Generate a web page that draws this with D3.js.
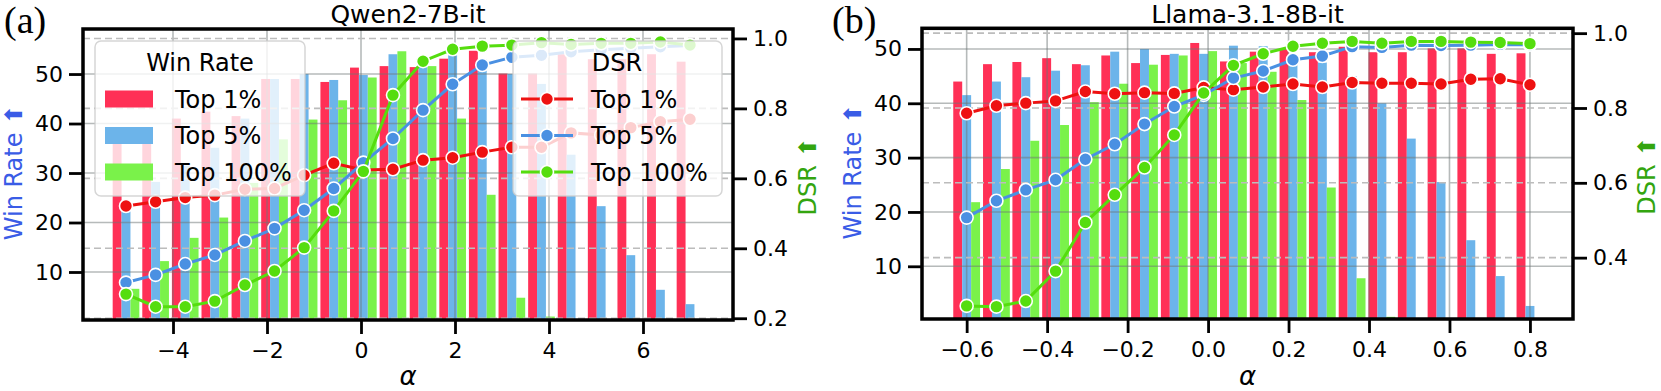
<!DOCTYPE html>
<html>
<head>
<meta charset="utf-8">
<title>Win Rate / DSR vs alpha</title>
<script src="https://cdn.jsdelivr.net/npm/d3@7"></script>
<style>
  body { margin: 0; background: #fff; }
  svg { display: block; font-family: "DejaVu Sans", sans-serif; }
</style>
</head>
<body>
<svg id="chart" width="1661" height="391"></svg>
<script>
// ---- data ----
var seriesNames = ['Top 1%', 'Top 5%', 'Top 100%'];

// (a) Qwen2-7B-it
var alphaQwen = [-5.0, -4.37, -3.74, -3.11, -2.47, -1.84, -1.21, -0.58, 0.05, 0.68,
                 1.32, 1.95, 2.58, 3.21, 3.84, 4.47, 5.11, 5.74, 6.37, 7.0];
var qwenWinTop1   = [36.0, 36.0, 41.0, 42.4, 41.5, 49.0, 49.0, 48.4, 51.3, 51.6,
                     51.4, 53.1, 54.7, 50.1, 50.1, 54.0, 53.0, 53.0, 54.0, 52.5];
var qwenWinTop5   = [23.5, 28.2, 31.5, 35.1, 41.0, 49.0, 50.0, 48.8, 49.8, 54.0,
                     51.4, 53.8, 53.0, 50.0, 48.0, 33.7, 23.3, 13.4, 6.4, 3.5];
var qwenWinTop100 = [6.6, 12.2, 16.9, 21.0, 28.0, 36.8, 40.8, 44.7, 49.3, 54.6,
                     51.6, 41.0, 25.6, 4.8, 1.0, 0, 0, 0, 0, 0];
var qwenDsrTop1   = [0.521, 0.533, 0.545, 0.552, 0.569, 0.571, 0.609, 0.643, 0.624, 0.626,
                     0.652, 0.659, 0.675, 0.689, 0.689, 0.730, 0.724, 0.745, 0.762, 0.769];
var qwenDsrTop5   = [0.302, 0.324, 0.355, 0.381, 0.421, 0.457, 0.509, 0.571, 0.645, 0.714,
                     0.795, 0.869, 0.924, 0.946, 0.952, 0.962, 0.968, 0.972, 0.976, 0.980];
var qwenDsrTop100 = [0.269, 0.233, 0.233, 0.249, 0.295, 0.335, 0.402, 0.507, 0.620, 0.838,
                     0.935, 0.969, 0.978, 0.981, 0.988, 0.983, 0.986, 0.986, 0.990, 0.981];

// (b) Llama-3.1-8B-it
var alphaLlama = [-0.6, -0.526, -0.453, -0.379, -0.305, -0.232, -0.158, -0.084, -0.011, 0.063,
                  0.137, 0.211, 0.284, 0.358, 0.432, 0.505, 0.579, 0.653, 0.726, 0.8];
var llamaWinTop1   = [44.0, 47.2, 47.6, 48.3, 47.2, 48.8, 47.4, 48.9, 51.1, 47.7,
                      49.5, 50.1, 49.4, 50.4, 49.4, 49.4, 50.1, 50.1, 49.1, 49.2];
var llamaWinTop5   = [41.5, 44.0, 44.8, 46.0, 47.0, 49.5, 50.0, 49.1, 49.1, 50.6,
                      50.5, 49.0, 47.5, 45.0, 40.0, 33.5, 25.5, 14.8, 8.2, 2.7];
var llamaWinTop100 = [21.8, 27.9, 33.1, 36.0, 40.2, 43.6, 47.1, 48.8, 49.6, 47.4,
                      45.8, 40.6, 24.5, 7.8, 0.7, 0, 0, 0, 0, 0];
var llamaDsrTop1   = [0.786, 0.806, 0.813, 0.819, 0.844, 0.838, 0.841, 0.839, 0.855, 0.849,
                      0.856, 0.864, 0.856, 0.868, 0.866, 0.866, 0.864, 0.877, 0.878, 0.862];
var llamaDsrTop5   = [0.507, 0.552, 0.581, 0.608, 0.663, 0.703, 0.757, 0.804, 0.835, 0.880,
                      0.899, 0.929, 0.939, 0.964, 0.962, 0.968, 0.967, 0.968, 0.970, 0.969];
var llamaDsrTop100 = [0.271, 0.269, 0.284, 0.364, 0.494, 0.568, 0.641, 0.728, 0.840, 0.914,
                      0.945, 0.965, 0.973, 0.978, 0.973, 0.978, 0.978, 0.976, 0.975, 0.972];

var winTicks = [10, 20, 30, 40, 50];
var qwenXTicks = [-4, -2, 0, 2, 4, 6];
var llamaXTicks = [-0.6, -0.4, -0.2, 0.0, 0.2, 0.4, 0.6, 0.8];
var qwenDsrTicks = [0.2, 0.4, 0.6, 0.8, 1.0];
var llamaDsrTicks = [0.4, 0.6, 0.8, 1.0];

// ---- styles ----
var barColors  = ['#ff3056', '#6cb4ea', '#7af24a'];
var lineColors = ['#ee1111', '#4a90e2', '#55dd0e'];
var winColor = '#3a5ce6';
var dsrColor = '#33a50f';
var tickFont = 22;

var svg = d3.select('#chart');

var panels = [
    { tag: '(a)', tagX: 4, title: 'Qwen2-7B-it',
      left: 83, right: 733, top: 29, bottom: 320,
      xDomain: [-5.915, 7.915], winDomain: [0.3, 59.1], dsrDomain: [0.195, 1.027],
      xTicks: qwenXTicks, xFmt: d3.format('d'), dsrTicks: qwenDsrTicks,
      alpha: alphaQwen,
      win: [qwenWinTop1, qwenWinTop5, qwenWinTop100],
      dsr: [qwenDsrTop1, qwenDsrTop5, qwenDsrTop100],
      winLabelX: 14, dsrLabelX: 808, legend: true },
    { tag: '(b)', tagX: 832, title: 'Llama-3.1-8B-it',
      left: 922, right: 1573, top: 28.3, bottom: 319,
      xDomain: [-0.711, 0.907], winDomain: [0.3, 53.8], dsrDomain: [0.236, 1.013],
      xTicks: llamaXTicks, xFmt: d3.format('.1f'), dsrTicks: llamaDsrTicks,
      alpha: alphaLlama,
      win: [llamaWinTop1, llamaWinTop5, llamaWinTop100],
      dsr: [llamaDsrTop1, llamaDsrTop5, llamaDsrTop100],
      winLabelX: 853, dsrLabelX: 1647, legend: false }
];

panels.forEach(drawPanel);

function drawPanel(p) {
    var x = d3.scaleLinear().domain(p.xDomain).range([p.left, p.right]);
    var yWin = d3.scaleLinear().domain(p.winDomain).range([p.bottom, p.top]);
    var yDsr = d3.scaleLinear().domain(p.dsrDomain).range([p.bottom, p.top]);
    var step = p.alpha[1] - p.alpha[0];
    var bw = step * 0.3;

    var g = svg.append('g');

    // bars
    p.win.forEach(function (vals, s) {
        g.append('g').selectAll('rect')
            .data(vals)
            .enter().append('rect')
            .attr('x', function (d, i) { return x(p.alpha[i] + (s - 1) * bw - bw / 2); })
            .attr('width', x(bw) - x(0))
            .attr('y', function (d) { return yWin(d); })
            .attr('height', function (d) { return Math.max(0, p.bottom - yWin(d)); })
            .attr('fill', barColors[s]);
    });

    // solid grid (win rate axis + x)
    var grid = g.append('g')
        .attr('stroke', 'rgba(110,118,118,0.5)')
        .attr('stroke-width', 1.6);
    grid.selectAll('.hy').data(winTicks).enter().append('line')
        .attr('x1', p.left).attr('x2', p.right)
        .attr('y1', function (d) { return yWin(d); })
        .attr('y2', function (d) { return yWin(d); });
    grid.selectAll('.vx').data(p.xTicks).enter().append('line')
        .attr('y1', p.top).attr('y2', p.bottom)
        .attr('x1', function (d) { return x(d); })
        .attr('x2', function (d) { return x(d); });

    // dashed grid (DSR axis)
    g.append('g').selectAll('line').data(p.dsrTicks).enter().append('line')
        .attr('x1', p.left).attr('x2', p.right)
        .attr('y1', function (d) { return yDsr(d); })
        .attr('y2', function (d) { return yDsr(d); })
        .attr('stroke', '#bcbcbc')
        .attr('stroke-width', 1.6)
        .attr('stroke-dasharray', '7,4');

    // DSR lines + markers
    p.dsr.forEach(function (vals, s) {
        var line = d3.line()
            .x(function (d, i) { return x(p.alpha[i]); })
            .y(function (d) { return yDsr(d); });
        g.append('path')
            .attr('d', line(vals))
            .attr('fill', 'none')
            .attr('stroke', lineColors[s])
            .attr('stroke-width', 3);
        g.append('g').selectAll('circle').data(vals).enter().append('circle')
            .attr('cx', function (d, i) { return x(p.alpha[i]); })
            .attr('cy', function (d) { return yDsr(d); })
            .attr('r', 6.5)
            .attr('fill', lineColors[s])
            .attr('stroke', '#fff')
            .attr('stroke-width', 1.6);
    });

    if (p.legend) drawLegends();

    // spines
    g.append('rect')
        .attr('x', p.left).attr('y', p.top)
        .attr('width', p.right - p.left).attr('height', p.bottom - p.top)
        .attr('fill', 'none').attr('stroke', '#000').attr('stroke-width', 3.5);

    // axes
    var xAxis = g.append('g')
        .attr('transform', 'translate(0,' + p.bottom + ')')
        .call(d3.axisBottom(x).tickValues(p.xTicks).tickFormat(p.xFmt).tickSize(14).tickPadding(8));
    var lAxis = g.append('g')
        .attr('transform', 'translate(' + p.left + ',0)')
        .call(d3.axisLeft(yWin).tickValues(winTicks).tickSize(14).tickPadding(6));
    var rAxis = g.append('g')
        .attr('transform', 'translate(' + p.right + ',0)')
        .call(d3.axisRight(yDsr).tickValues(p.dsrTicks).tickFormat(d3.format('.1f')).tickSize(14).tickPadding(6));
    [xAxis, lAxis, rAxis].forEach(function (a) {
        a.select('.domain').remove();
        a.selectAll('.tick line').attr('stroke', '#000').attr('stroke-width', 2.8);
        a.selectAll('.tick text')
            .attr('fill', '#000')
            .style('font-family', '"DejaVu Sans", sans-serif')
            .style('font-size', tickFont + 'px');
    });

    // labels
    var cx = (p.left + p.right) / 2;
    var cy = (p.top + p.bottom) / 2;
    svg.append('text')
        .attr('x', cx).attr('y', 23)
        .attr('text-anchor', 'middle')
        .style('font-size', '25px')
        .text(p.title);
    svg.append('text')
        .attr('x', p.tagX).attr('y', 33)
        .style('font-family', '"Liberation Serif", serif')
        .style('font-size', '38px')
        .text(p.tag);
    svg.append('text')
        .attr('x', cx).attr('y', 385)
        .attr('text-anchor', 'middle')
        .style('font-size', '26px')
        .style('font-style', 'italic')
        .text('\u03b1');
    svg.append('text')
        .attr('transform', 'translate(' + p.winLabelX + ',' + (cy - 2) + ') rotate(-90)')
        .attr('text-anchor', 'middle')
        .attr('dominant-baseline', 'central')
        .attr('fill', winColor)
        .style('font-size', '24px')
        .text('Win Rate \u2b06');
    svg.append('text')
        .attr('transform', 'translate(' + p.dsrLabelX + ',' + (cy + 2) + ') rotate(-90)')
        .attr('text-anchor', 'middle')
        .attr('dominant-baseline', 'central')
        .attr('fill', dsrColor)
        .style('font-size', '24px')
        .text('DSR \u2b06');
}

function drawLegends() {
    var rows = [99, 135.5, 172];
    var lg = svg.append('g').style('font-size', '24px');

    // Win Rate legend
    lg.append('rect')
        .attr('x', 95).attr('y', 41).attr('width', 210).attr('height', 155)
        .attr('rx', 6)
        .attr('fill', 'rgba(255,255,255,0.8)')
        .attr('stroke', 'rgba(204,204,204,0.8)').attr('stroke-width', 1.5);
    lg.append('text').attr('x', 200).attr('y', 71).attr('text-anchor', 'middle').text('Win Rate');
    lg.selectAll('.wp').data(seriesNames).enter().append('rect')
        .attr('x', 105).attr('y', function (d, i) { return rows[i] - 8.5; })
        .attr('width', 48).attr('height', 17)
        .attr('fill', function (d, i) { return barColors[i]; });
    lg.selectAll('.wt').data(seriesNames).enter().append('text')
        .attr('x', 175).attr('y', function (d, i) { return rows[i] + 8.5; })
        .text(function (d) { return d; });

    // DSR legend
    lg.append('rect')
        .attr('x', 513).attr('y', 41).attr('width', 209).attr('height', 155)
        .attr('rx', 6)
        .attr('fill', 'rgba(255,255,255,0.8)')
        .attr('stroke', 'rgba(204,204,204,0.8)').attr('stroke-width', 1.5);
    lg.append('text').attr('x', 617).attr('y', 71).attr('text-anchor', 'middle').text('DSR');
    seriesNames.forEach(function (name, i) {
        lg.append('line')
            .attr('x1', 521).attr('x2', 573).attr('y1', rows[i]).attr('y2', rows[i])
            .attr('stroke', lineColors[i]).attr('stroke-width', 3);
        lg.append('circle')
            .attr('cx', 547).attr('cy', rows[i]).attr('r', 6.5)
            .attr('fill', lineColors[i]).attr('stroke', '#fff').attr('stroke-width', 1.6);
        lg.append('text')
            .attr('x', 591).attr('y', rows[i] + 8.5)
            .text(name);
    });
}
</script>
</body>
</html>
